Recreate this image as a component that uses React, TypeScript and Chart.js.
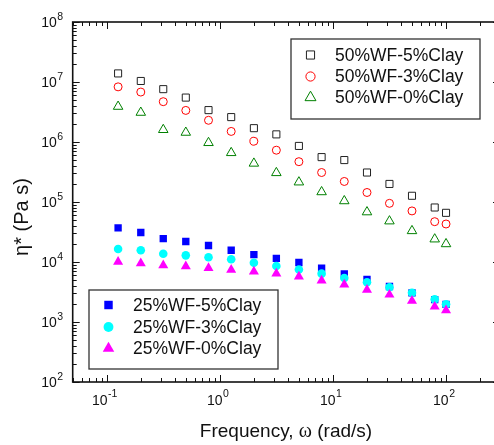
import React, { useEffect, useRef } from 'react';
import { Chart, registerables } from 'chart.js';

Chart.register(...registerables);

// ---- data ----
const frequency = [0.126, 0.2, 0.316, 0.5, 0.794, 1.26, 2, 3.16, 5, 7.94, 12.6, 20, 31.6, 50, 79.4, 100];

const wf50clay5 = [1.39e7, 1.04e7, 7.6e6, 5.5e6, 3.4e6, 2.6e6, 1.7e6, 1.34e6, 8.6e5, 5.6e5, 5.0e5, 3.1e5, 2.0e5, 1.27e5, 8.1e4, 6.6e4];
const wf50clay3 = [8.3e6, 6.8e6, 4.7e6, 3.36e6, 2.3e6, 1.5e6, 1.03e6, 7.3e5, 4.7e5, 3.1e5, 2.2e5, 1.44e5, 9.5e4, 7.1e4, 4.7e4, 4.3e4];
const wf50clay0 = [3.9e6, 3.1e6, 1.6e6, 1.44e6, 9.7e5, 6.6e5, 4.4e5, 3.06e5, 2.14e5, 1.47e5, 1.04e5, 6.8e4, 4.8e4, 3.3e4, 2.4e4, 2.0e4];
const wf25clay5 = [3.7e4, 3.1e4, 2.45e4, 2.2e4, 1.88e4, 1.57e4, 1.33e4, 1.15e4, 9.8e3, 7.9e3, 6.3e3, 5.1e3, 3.9e3, 3.05e3, 2.36e3, 1.97e3];
const wf25clay3 = [1.65e4, 1.57e4, 1.37e4, 1.29e4, 1.2e4, 1.11e4, 9.7e3, 8.6e3, 7.5e3, 6.4e3, 5.4e3, 4.6e3, 3.8e3, 3.08e3, 2.39e3, 1.97e3];
const wf25clay0 = [1.01e4, 9.5e3, 8.8e3, 8.5e3, 7.9e3, 7.4e3, 6.9e3, 6.4e3, 5.7e3, 4.9e3, 4.2e3, 3.45e3, 2.85e3, 2.26e3, 1.8e3, 1.57e3];

const seriesLabels = [
  '50%WF-5%Clay', '50%WF-3%Clay', '50%WF-0%Clay',
  '25%WF-5%Clay', '25%WF-3%Clay', '25%WF-0%Clay',
];

const xTickExponents = [-1, 0, 1, 2];
const yTickExponents = [2, 3, 4, 5, 6, 7, 8];
const xTitleParts = ['Frequency, ', 'ω', ' (rad/s)'];
const yTitle = 'η* (Pa s)';

const SANS = '"Liberation Sans", Arial, sans-serif';
const SERIF = '"Liberation Serif", "Times New Roman", serif';

function drawMarker(ctx: CanvasRenderingContext2D, style: string, x: number, y: number, r: number, fill: string, stroke: string, lw: number) {
  ctx.beginPath();
  if (style === 'rect') {
    const s = Math.SQRT1_2 * r;
    ctx.rect(x - s, y - s, 2 * s, 2 * s);
  } else if (style === 'circle') {
    ctx.arc(x, y, r, 0, Math.PI * 2);
  } else {
    ctx.moveTo(x, y - r);
    ctx.lineTo(x + r * Math.sin((2 * Math.PI) / 3), y - r * Math.cos((2 * Math.PI) / 3));
    ctx.lineTo(x + r * Math.sin((4 * Math.PI) / 3), y - r * Math.cos((4 * Math.PI) / 3));
    ctx.closePath();
  }
  if (fill && fill !== 'transparent') {
    ctx.fillStyle = fill;
    ctx.fill();
  }
  if (lw > 0) {
    ctx.strokeStyle = stroke;
    ctx.lineWidth = lw;
    ctx.stroke();
  }
}

const framePlugin = {
  id: 'originFrame',
  afterDatasetsDraw(chart: any) {
    const { ctx, chartArea: a, scales } = chart;
    const xs = scales.x;
    const ys = scales.y;
    ctx.save();
    const ink = '#111';
    ctx.strokeStyle = ink;
    ctx.lineWidth = 1;

    for (let e = -2; e <= 3; e++) {
      for (let m = 1; m <= 9; m++) {
        const v = m * Math.pow(10, e);
        if (v < xs.min * 0.999 || v > xs.max * 1.001) continue;
        const px = Math.round(xs.getPixelForValue(v)) + 0.5;
        const len = m === 1 ? 7 : 4;
        ctx.beginPath();
        ctx.moveTo(px, a.bottom);
        ctx.lineTo(px, a.bottom - len);
        ctx.moveTo(px, a.top);
        ctx.lineTo(px, a.top + len);
        ctx.stroke();
      }
    }
    for (let e = 1; e <= 9; e++) {
      for (let m = 1; m <= 9; m++) {
        const v = m * Math.pow(10, e);
        if (v < ys.min * 0.999 || v > ys.max * 1.001) continue;
        const py = Math.round(ys.getPixelForValue(v)) + 0.5;
        const len = m === 1 ? 7 : 4;
        ctx.beginPath();
        ctx.moveTo(a.left, py);
        ctx.lineTo(a.left + len, py);
        ctx.moveTo(a.right, py);
        ctx.lineTo(a.right - len, py);
        ctx.stroke();
      }
    }

    ctx.lineWidth = 1.6;
    ctx.strokeRect(a.left, a.top, a.right - a.left, a.bottom - a.top);

    ctx.fillStyle = '#111';
    ctx.textBaseline = 'alphabetic';
    ctx.textAlign = 'left';
    const mainFont = `14px ${SANS}`;
    const supFont = `10.5px ${SANS}`;
    for (const e of xTickExponents) {
      const px = xs.getPixelForValue(Math.pow(10, e));
      ctx.font = mainFont;
      const wm = ctx.measureText('10').width;
      ctx.font = supFont;
      const es = e < 0 ? '-' + Math.abs(e) : String(e);
      const we = ctx.measureText(es).width;
      const total = wm + 0.5 + we;
      const x0 = px - total / 2 - 2;
      ctx.font = mainFont;
      ctx.fillText('10', x0, a.bottom + 22.5);
      ctx.font = supFont;
      ctx.fillText(es, x0 + wm + 0.5, a.bottom + 15);
    }
    for (const e of yTickExponents) {
      const py = ys.getPixelForValue(Math.pow(10, e));
      ctx.font = supFont;
      const es = String(e);
      const we = ctx.measureText(es).width;
      ctx.font = mainFont;
      const wm = ctx.measureText('10').width;
      const right = a.left - 9.5;
      ctx.fillText('10', right - we - 0.5 - wm, py + 5.3);
      ctx.font = supFont;
      ctx.fillText(es, right - we, py - 2);
    }

    ctx.fillStyle = '#111';
    const fonts = [`19px ${SANS}`, `20px ${SERIF}`, `19px ${SANS}`];
    let tw = 0;
    const widths = xTitleParts.map((p, i) => {
      ctx.font = fonts[i];
      const w = ctx.measureText(p).width;
      tw += w;
      return w;
    });
    let cx = 286 - tw / 2;
    xTitleParts.forEach((p, i) => {
      ctx.font = fonts[i];
      ctx.fillText(p, cx, 436.5);
      cx += widths[i];
    });

    ctx.save();
    ctx.translate(22.5, 217);
    ctx.rotate(-Math.PI / 2);
    ctx.font = `20px ${SANS}`;
    ctx.textAlign = 'center';
    ctx.textBaseline = 'middle';
    ctx.fillText(yTitle, 0, 0);
    ctx.restore();

    const boxes = [
      { x: 291, y: 39, w: 189, h: 80, mx: 310.5, tx: 335, rows: [55, 76.5, 97.5], idx: [0, 1, 2] },
      { x: 89, y: 290, w: 189, h: 79, mx: 108.5, tx: 133, rows: [305, 327, 348.5], idx: [3, 4, 5] },
    ];
    for (const b of boxes) {
      ctx.fillStyle = '#fff';
      ctx.fillRect(b.x, b.y, b.w, b.h);
      ctx.strokeStyle = '#333';
      ctx.lineWidth = 1.3;
      ctx.strokeRect(b.x, b.y, b.w, b.h);
      b.idx.forEach((di, k) => {
        const ds = chart.data.datasets[di];
        const r = ds.pointRadius * 1.15;
        drawMarker(ctx, ds.pointStyle, b.mx, b.rows[k], r, ds.pointBackgroundColor, ds.pointBorderColor, ds.pointBorderWidth);
        ctx.fillStyle = '#111';
        ctx.font = `17.5px ${SANS}`;
        ctx.textAlign = 'left';
        ctx.textBaseline = 'middle';
        ctx.fillText(ds.label, b.tx, b.rows[k] + 1);
      });
    }
    ctx.restore();
  },
};

function makeData(vals: number[]) {
  return frequency.map((f, i) => ({ x: f, y: vals[i] }));
}

export default function App() {
  const ref = useRef<HTMLCanvasElement | null>(null);

  useEffect(() => {
    if (!ref.current) return;
    const mk = (label: string, vals: number[], style: string, r: number, fill: string, stroke: string, bw: number, order: number) => ({
      label,
      data: makeData(vals),
      pointStyle: style,
      pointRadius: r,
      pointBackgroundColor: fill,
      pointBorderColor: stroke,
      pointBorderWidth: bw,
      backgroundColor: fill,
      borderColor: stroke,
      showLine: false,
      order,
    });
    const chart = new Chart(ref.current, {
      type: 'scatter',
      data: {
        datasets: [
          mk(seriesLabels[0], wf50clay5, 'rect', 5, 'transparent', '#222', 1, 6),
          mk(seriesLabels[1], wf50clay3, 'circle', 4, 'transparent', '#ff0000', 1, 5),
          mk(seriesLabels[2], wf50clay0, 'triangle', 5.5, 'transparent', '#008000', 1, 4),
          mk(seriesLabels[3], wf25clay5, 'rect', 5.2, '#0000ff', '#0000ff', 0, 3),
          mk(seriesLabels[4], wf25clay3, 'circle', 4.3, '#00ffff', '#00ffff', 0, 2),
          mk(seriesLabels[5], wf25clay0, 'triangle', 5.8, '#ff00ff', '#ff00ff', 0, 1),
        ] as any,
      },
      options: {
        responsive: false,
        maintainAspectRatio: false,
        animation: false,
        devicePixelRatio: 1,
        layout: { padding: { left: 72.7, top: 22, right: 10, bottom: 63 } },
        scales: {
          x: { type: 'logarithmic', min: 0.05, max: 300, display: false },
          y: { type: 'logarithmic', min: 100, max: 1e8, display: false },
        },
        plugins: {
          legend: { display: false },
          tooltip: { enabled: false },
        },
        events: [],
      },
      plugins: [framePlugin as any],
    });
    return () => chart.destroy();
  }, []);

  return (
    <div style={{ position: 'fixed', left: 0, top: 0, width: 494, height: 445, overflow: 'hidden', background: '#fff' }}>
      <canvas ref={ref} width={510} height={445} style={{ display: 'block', width: 510, height: 445 }} />
    </div>
  );
}
